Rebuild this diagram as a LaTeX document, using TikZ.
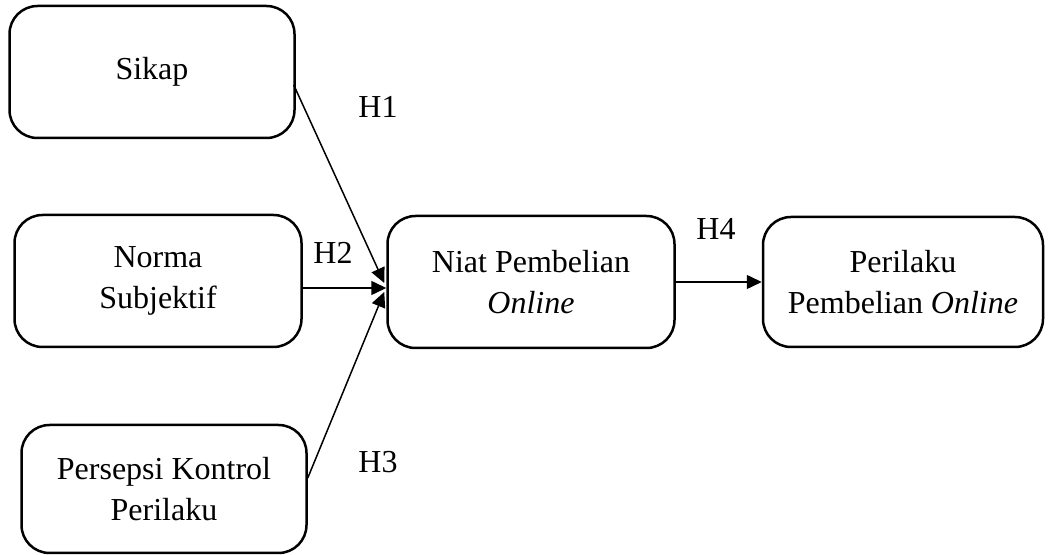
\documentclass[tikz,border=0pt]{standalone}
\usepackage{fontspec}
\setmainfont{Liberation Serif}
\usetikzlibrary{arrows.meta,shapes}

\begin{document}
\begin{tikzpicture}[x=0.5pt,y=-0.5pt]
\tikzstyle{every node}=[font=\fontsize{16}{20.5}\selectfont]
\tikzstyle{varbox}=[rectangle,draw,rounded corners=14pt,line width=1.25pt,align=center,inner sep=0pt]
\tikzstyle{path}=[line width=0.75pt,-{Triangle[length=7.5pt,width=7pt]}]
\useasboundingbox (0,0) rectangle (1051,555);
\node[varbox,minimum width=142.5pt,minimum height=66pt] (sikap) at (152,72) {Sikap};
\node[varbox,minimum width=143.5pt,minimum height=66pt] (norma) at (158,281) {Norma\\Subjektif};
\node[varbox,minimum width=142.5pt,minimum height=64pt] (persepsi) at (164,489) {Persepsi Kontrol\\Perilaku};
\node[varbox,minimum width=143.5pt,minimum height=66pt] (niat) at (531,282) {Niat Pembelian\\\textit{Online}};
\node[varbox,minimum width=140pt,minimum height=65pt] (perilaku) at (903,282) {Perilaku\\Pembelian \textit{Online}};
% hipotesis
\draw[path] ([xshift=-1pt,yshift=-6.5pt]sikap.east) -- ([xshift=-1pt,yshift=-0.5pt]niat.west);
\draw[path] ([yshift=-3.5pt]norma.east) -- ([yshift=-3pt]niat.west);
\draw[path] ([yshift=5.5pt]persepsi.east) -- ([xshift=-1pt,yshift=-5pt]niat.west);
\draw[path] (niat.east) -- (perilaku.west);
\node (h1) at (378,107) {H1};
\node (h2) at (333,253) {H2};
\node (h3) at (378,462) {H3};
\node (h4) at (716,229) {H4};
\end{tikzpicture}
\end{document}
